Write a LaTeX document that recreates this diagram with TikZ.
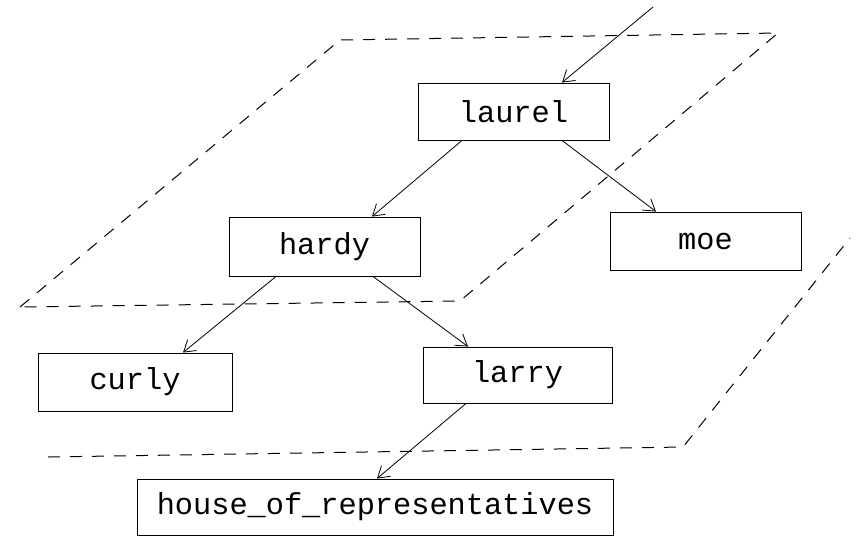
\documentclass[tikz,border=0pt]{standalone}
\usepackage{fontspec}
\setmonofont{Liberation Mono}
\usetikzlibrary{arrows.meta}
\begin{document}
\begin{tikzpicture}[x=1pt,y=-1pt,
  box/.style={draw,line width=0.9pt,inner sep=0pt,font=\ttfamily\fontsize{30.3}{36}\selectfont},
  link/.style={draw,line width=0.8pt,-{Straight Barb[length=11pt,width=14pt,line width=0.8pt]}},
  plane/.style={draw,line width=1pt,dash pattern=on 12pt off 10pt}]
\useasboundingbox (0,0) rectangle (859,539);
% dashed planes
\draw[plane] (20,307) -- (340,40) -- (778,33) -- (460,301) -- cycle;
\draw[plane] (48,457) -- (683,447) -- (850,238);
% nodes
\node[box,minimum width=191pt,minimum height=57pt] (laurel) at (513.5,111.5) {laurel};
\node[box,minimum width=191pt,minimum height=59pt] (hardy) at (324.5,246.5) {hardy};
\node[box,minimum width=191pt,minimum height=58pt] (moe) at (705.5,241) {moe};
\node[box,minimum width=194pt,minimum height=58pt] (curly) at (135,382) {curly};
\node[box,minimum width=189pt,minimum height=56pt] (larry) at (517.5,375) {larry};
\node[box,minimum width=476pt,minimum height=56pt] (house) at (375,507) {house\_of\_representatives};
\coordinate (in) at (653,7);
% connectors
\draw[link] (in) -- ([xshift=48.5pt]laurel.north);
\draw[link] ([xshift=-51.5pt]laurel.south) -- ([xshift=47.5pt]hardy.north);
\draw[link] ([xshift=48.5pt]laurel.south) -- ([xshift=-49.5pt]moe.north);
\draw[link] ([xshift=-48.5pt]hardy.south) -- ([xshift=48pt]curly.north);
\draw[link] ([xshift=48.5pt]hardy.south) -- ([xshift=-49.5pt]larry.north);
\draw[link] ([xshift=-51.5pt]larry.south) -- ([xshift=2pt]house.north);
\end{tikzpicture}
\end{document}
